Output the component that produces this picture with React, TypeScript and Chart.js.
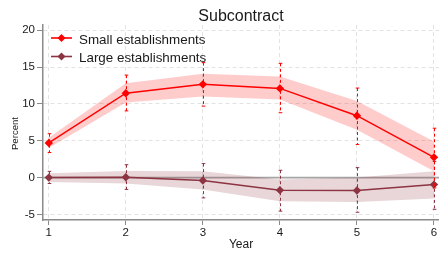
import { useEffect, useRef } from 'react';
import { Chart, registerables } from 'chart.js';

Chart.register(...registerables);

const years = [1, 2, 3, 4, 5, 6];
const xTicks = [1, 2, 3, 4, 5, 6];
const yTicks = [-5, 0, 5, 10, 15, 20];

const smallEst = [4.7, 11.45, 12.65, 12.1, 8.4, 2.75];
const smallBandLo = [4.0, 10.2, 11.0, 10.6, 6.5, 0.85];
const smallBandHi = [5.4, 12.8, 14.1, 13.7, 10.4, 4.9];
const smallErrLo = [3.4, 9.05, 9.7, 8.8, 4.5, -1.4];
const smallErrHi = [5.95, 13.9, 15.6, 15.5, 12.15, 6.7];

const largeEst = [0.0, 0.05, -0.4, -1.7, -1.75, -0.95];
const largeBandLo = [-0.6, -0.8, -1.6, -3.2, -3.3, -2.85];
const largeBandHi = [0.6, 0.9, 0.85, -0.25, 0.0, 0.85];
const largeErrLo = [-0.8, -1.6, -2.75, -4.55, -4.7, -4.3];
const largeErrHi = [0.85, 1.75, 1.9, 1.0, 1.35, 2.2];

const titleText = 'Subcontract';
const xTitle = 'Year';
const yTitle = 'Percent';
const seriesNames = ['Small establishments', 'Large establishments'];

const RED = '#ff0000';
const CRAN = 'rgb(141,52,66)';
const RED_BAND = 'rgba(255,0,0,0.2)';
const CRAN_BAND = 'rgba(141,52,66,0.2)';
const FONT = '"Liberation Sans", Arial, sans-serif';

const pts = (vals: number[]) => years.map((x, i) => ({ x, y: vals[i] }));

function diamond(ctx: CanvasRenderingContext2D, x: number, y: number, r: number, color: string) {
  ctx.beginPath();
  ctx.moveTo(x, y - r);
  ctx.lineTo(x + r, y);
  ctx.lineTo(x, y + r);
  ctx.lineTo(x - r, y);
  ctx.closePath();
  ctx.fillStyle = color;
  ctx.fill();
}

const decorPlugin = {
  id: 'decor',
  beforeDatasetsDraw(chart: any) {
    const { ctx, chartArea, scales } = chart;
    const y0 = scales.y.getPixelForValue(0);
    ctx.save();
    ctx.strokeStyle = 'rgb(165,165,165)';
    ctx.lineWidth = 1.8;
    ctx.beginPath();
    ctx.moveTo(chartArea.left, y0);
    ctx.lineTo(chartArea.right, y0);
    ctx.stroke();
    ctx.restore();
  },
  afterDatasetsDraw(chart: any) {
    const { ctx, scales } = chart;
    const { x, y } = scales;
    const drawBars = (lo: number[], hi: number[], color: string) => {
      ctx.save();
      ctx.strokeStyle = color;
      ctx.lineWidth = 1;
      years.forEach((yr, i) => {
        const px = Math.round(x.getPixelForValue(yr)) + 0.5;
        const pl = y.getPixelForValue(lo[i]);
        const ph = y.getPixelForValue(hi[i]);
        ctx.setLineDash([3, 2.5]);
        ctx.beginPath();
        ctx.moveTo(px, ph);
        ctx.lineTo(px, pl);
        ctx.stroke();
        ctx.setLineDash([]);
        ctx.beginPath();
        ctx.moveTo(px - 1.8, ph);
        ctx.lineTo(px + 1.8, ph);
        ctx.moveTo(px - 1.8, pl);
        ctx.lineTo(px + 1.8, pl);
        ctx.stroke();
      });
      ctx.restore();
    };
    drawBars(largeErrLo, largeErrHi, CRAN);
    drawBars(smallErrLo, smallErrHi, RED);
  },
  afterDraw(chart: any) {
    const { ctx, chartArea } = chart;
    ctx.save();
    ctx.fillStyle = '#1a1a1a';
    ctx.font = `16px ${FONT}`;
    ctx.textAlign = 'center';
    ctx.textBaseline = 'alphabetic';
    ctx.fillText(titleText, (chartArea.left + chartArea.right) / 2, 21);
    ctx.save();
    ctx.translate(18.3, 133.5);
    ctx.rotate(-Math.PI / 2);
    ctx.font = `9.6px ${FONT}`;
    ctx.fillText(yTitle, 0, 0);
    ctx.restore();
    const items = [
      { label: seriesNames[0], color: RED, ly: 38, by: 43.5 },
      { label: seriesNames[1], color: CRAN, ly: 56.5, by: 61.8 },
    ];
    items.forEach((it) => {
      ctx.strokeStyle = it.color;
      ctx.lineWidth = 1.6;
      ctx.beginPath();
      ctx.moveTo(51, it.ly);
      ctx.lineTo(72, it.ly);
      ctx.stroke();
      diamond(ctx, 61.5, it.ly, 4, it.color);
      ctx.fillStyle = '#1a1a1a';
      ctx.font = `13.4px ${FONT}`;
      ctx.textAlign = 'left';
      ctx.textBaseline = 'alphabetic';
      ctx.fillText(it.label, 79, it.by);
    });
    ctx.restore();
  },
};

export default function App() {
  const ref = useRef<HTMLCanvasElement | null>(null);

  useEffect(() => {
    if (!ref.current) return;
    const gridCommon = {
      color: '#e3e3e3',
      lineWidth: 1,
      tickColor: '#8a8a8a',
      tickWidth: 1,
      tickBorderDash: [],
    };
    const chart = new Chart(ref.current, {
      type: 'line',
      data: {
        datasets: [
          {
            label: seriesNames[0],
            data: pts(smallEst),
            borderColor: RED,
            backgroundColor: RED,
            borderWidth: 1.5,
            pointStyle: 'rectRot',
            pointRadius: 4.2,
            pointBackgroundColor: RED,
            pointBorderWidth: 0,
            fill: false,
            order: 0,
          },
          {
            label: seriesNames[1],
            data: pts(largeEst),
            borderColor: CRAN,
            backgroundColor: CRAN,
            borderWidth: 1.5,
            pointStyle: 'rectRot',
            pointRadius: 4.2,
            pointBackgroundColor: CRAN,
            pointBorderWidth: 0,
            fill: false,
            order: 1,
          },
          {
            label: 'smallHi',
            data: pts(smallBandHi),
            borderWidth: 0,
            pointRadius: 0,
            backgroundColor: RED_BAND,
            fill: '+1',
            order: 5,
          },
          {
            label: 'smallLo',
            data: pts(smallBandLo),
            borderWidth: 0,
            pointRadius: 0,
            fill: false,
            order: 6,
          },
          {
            label: 'largeHi',
            data: pts(largeBandHi),
            borderWidth: 0,
            pointRadius: 0,
            backgroundColor: CRAN_BAND,
            fill: '+1',
            order: 7,
          },
          {
            label: 'largeLo',
            data: pts(largeBandLo),
            borderWidth: 0,
            pointRadius: 0,
            fill: false,
            order: 8,
          },
        ],
      },
      options: {
        animation: false,
        responsive: false,
        devicePixelRatio: 1,
        layout: { autoPadding: false, padding: { top: 25, right: 0, left: 0, bottom: 0 } },
        plugins: {
          legend: { display: false },
          title: { display: false },
          tooltip: { enabled: false },
        },
        scales: {
          x: {
            type: 'linear',
            min: 0.925,
            max: 6.065,
            afterBuildTicks: (s: any) => {
              s.ticks = xTicks.map((v) => ({ value: v }));
            },
            afterFit: (s: any) => {
              s.height = 35;
              s.paddingLeft = 0;
              s.paddingRight = 0;
            },
            ticks: {
              font: { size: 11.5, family: FONT },
              color: '#1a1a1a',
              padding: 1,
              maxRotation: 0,
              autoSkip: false,
            },
            grid: { ...gridCommon, tickLength: 5 },
            border: { color: '#8a8a8a', width: 1.5, dash: [4, 3] },
            title: {
              display: true,
              text: xTitle,
              font: { size: 12, family: FONT },
              color: '#1a1a1a',
              padding: { top: 0, bottom: 3 },
            },
          },
          y: {
            min: -5.75,
            max: 20.7,
            afterBuildTicks: (s: any) => {
              s.ticks = yTicks.map((v) => ({ value: v }));
            },
            afterFit: (s: any) => {
              s.width = 43;
              s.paddingTop = 0;
              s.paddingBottom = 0;
            },
            ticks: {
              font: { size: 11.5, family: FONT },
              color: '#1a1a1a',
              padding: 2,
              autoSkip: false,
            },
            grid: { ...gridCommon, tickLength: 6 },
            border: { color: '#8a8a8a', width: 1.5, dash: [4, 3] },
            title: { display: false },
          },
        },
      },
      plugins: [decorPlugin],
    } as any);
    return () => chart.destroy();
  }, []);

  return (
    <canvas
      ref={ref}
      width={439}
      height={255}
      style={{ position: 'absolute', left: 0, top: 0, display: 'block', width: 439, height: 255 }}
    />
  );
}
